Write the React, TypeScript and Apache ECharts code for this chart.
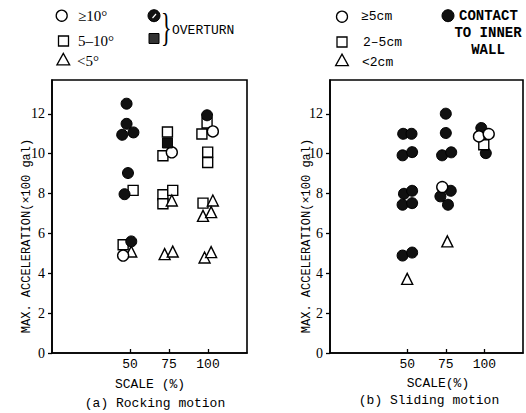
import React, { useEffect, useRef } from 'react';
import * as echarts from 'echarts';

const xTicks = [50, 75, 100];
const yTicks = [0, 2, 4, 6, 8, 10, 12];

// (a) Rocking motion
const rockOpenCircle = [[45.6, 4.89], [76.8, 10.07], [103.1, 11.12]];
const rockOpenSquare = [
  [52, 8.16], [45.6, 5.43], [74, 11.09], [71.1, 9.9], [71.1, 7.94], [71.1, 7.49],
  [77.4, 8.16], [99.4, 11.54], [96.1, 10.99], [99.8, 10.08], [99.8, 9.56], [96.8, 7.52],
];
const rockOpenTriangle = [
  [50.8, 5.09], [76.8, 7.65], [72.2, 4.96], [77.4, 5.09], [103.1, 7.65],
  [96.8, 6.88], [102, 7.07], [97.8, 4.79], [102, 5.06],
];
const rockOverturnCircle = [
  [47.8, 12.51], [47.8, 11.5], [45, 10.95], [52.2, 11.07], [48.7, 9.03],
  [46.5, 7.97], [50.8, 5.6], [99.4, 11.93],
];
const rockOverturnSquare = [[74, 10.54]];

// (b) Sliding motion
const slideOpenCircle = [[72.7, 8.33], [96.5, 10.87], [102.8, 10.99]];
const slideOpenSquare = [[99.6, 10.45]];
const slideOpenTriangle = [[50, 3.72], [76, 5.6]];
const slideContact = [
  [47.4, 11.0], [52.8, 11.0], [47, 9.92], [53.2, 10.08], [47.9, 7.99], [53.2, 8.14],
  [47, 7.44], [53.2, 7.52], [47, 4.89], [53.2, 5.04], [75, 12.01], [75, 11.04],
  [72.6, 9.92], [78.5, 10.07], [71.5, 7.86], [78.2, 8.14], [76.4, 7.44], [98, 11.29],
  [100.9, 10.03],
];

const MONO = '"Liberation Mono", "DejaVu Sans Mono", monospace';
const SERIF = '"Liberation Serif", "DejaVu Serif", serif';
const INK = '#000';

const openStyle = { color: '#fff', borderColor: INK, borderWidth: 1.4, opacity: 1 };
const fillStyle = { color: '#111', borderColor: INK, borderWidth: 1, opacity: 1 };

function scatter(data: number[][], symbol: string, size: number, filled: boolean, idx: number, z: number) {
  return {
    type: 'scatter',
    xAxisIndex: idx,
    yAxisIndex: idx,
    symbol,
    symbolSize: size,
    data,
    z,
    itemStyle: filled ? fillStyle : openStyle,
  };
}

function makeX(idx: number) {
  return {
    type: 'value',
    gridIndex: idx,
    min: 0,
    max: 125,
    axisLine: { show: true, lineStyle: { color: INK, width: 1.6 } },
    axisTick: { show: true, inside: true, length: 4, customValues: xTicks, lineStyle: { color: INK, width: 1.3 } },
    axisLabel: { customValues: xTicks, color: INK, fontFamily: MONO, fontSize: 13, margin: 5 },
    splitLine: { show: false },
  };
}

function makeY(idx: number) {
  return {
    type: 'value',
    gridIndex: idx,
    min: 0,
    max: 13.7,
    axisLine: { show: true, lineStyle: { color: INK, width: 1.6 } },
    axisTick: { show: true, inside: false, length: 4, customValues: yTicks, lineStyle: { color: INK, width: 1.3 } },
    axisLabel: { customValues: yTicks, color: INK, fontFamily: SERIF, fontSize: 14, margin: 7 },
    splitLine: { show: false },
  };
}

function txt(x: number, y: number, text: string, opts: any = {}) {
  return {
    type: 'text',
    x,
    y,
    rotation: opts.rotation || 0,
    scaleX: opts.scaleX || 1,
    style: {
      text,
      fill: INK,
      fontFamily: opts.font || MONO,
      fontSize: opts.size || 13,
      fontWeight: opts.weight || 'normal',
      align: opts.align || 'left',
      verticalAlign: 'middle',
    },
  };
}

function triPts(cx: number, cy: number, s: number) {
  return [[cx, cy - s * 0.6], [cx + s * 0.58, cy + s * 0.45], [cx - s * 0.58, cy + s * 0.45]];
}

const openShape = { fill: '#fff', stroke: INK, lineWidth: 1.3 };
const fillShape = { fill: '#111', stroke: INK, lineWidth: 1 };

export default function App() {
  const ref = useRef<HTMLDivElement>(null);
  useEffect(() => {
    document.body.style.margin = '0';
    const chart = echarts.init(ref.current!, null, { renderer: 'svg' });
    chart.setOption({
      animation: false,
      backgroundColor: '#fff',
      grid: [
        { left: 52, top: 80, width: 195, height: 273, show: true, borderColor: INK, borderWidth: 1.6, backgroundColor: 'transparent' },
        { left: 330, top: 80, width: 193, height: 273, show: true, borderColor: INK, borderWidth: 1.6, backgroundColor: 'transparent' },
      ],
      xAxis: [makeX(0), makeX(1)],
      yAxis: [makeY(0), makeY(1)],
      series: [
        scatter(rockOpenSquare, 'rect', 10, false, 0, 2),
        scatter(rockOpenTriangle, 'triangle', 11, false, 0, 2),
        scatter(rockOpenCircle, 'circle', 11, false, 0, 2),
        scatter(rockOverturnSquare, 'rect', 10, true, 0, 3),
        scatter(rockOverturnCircle, 'circle', 11, true, 0, 3),
        scatter(slideContact, 'circle', 11, true, 1, 2),
        scatter(slideOpenSquare, 'rect', 10, false, 1, 3),
        scatter(slideOpenTriangle, 'triangle', 11, false, 1, 3),
        scatter(slideOpenCircle, 'circle', 11, false, 1, 3),
      ],
      graphic: [
        // left legend
        { type: 'circle', shape: { cx: 61.7, cy: 15.7, r: 5.5 }, style: openShape },
        txt(78, 16, '≥10°', { font: SERIF, size: 15 }),
        { type: 'rect', shape: { x: 58.5, y: 36, width: 10, height: 10 }, style: openShape },
        txt(78, 41, '5–10°', { font: SERIF, size: 15 }),
        { type: 'polygon', shape: { points: triPts(63.3, 60, 11) }, style: openShape },
        txt(77, 61, '<5°', { font: SERIF, size: 15 }),
        { type: 'circle', shape: { cx: 154, cy: 15.7, r: 6 }, style: fillShape },
        { type: 'line', shape: { x1: 152.5, y1: 18, x2: 156, y2: 14 }, style: { stroke: '#fff', lineWidth: 1.2 } },
        { type: 'rect', shape: { x: 149, y: 33.5, width: 10, height: 10 }, style: { fill: '#333', stroke: INK, lineWidth: 1 } },
        txt(161, 27, '}', { font: SERIF, size: 40, scaleX: 0.55 }),
        txt(172, 30, 'OVERTURN', { size: 13 }),
        // right legend
        { type: 'circle', shape: { cx: 342, cy: 16.7, r: 5.5 }, style: openShape },
        txt(361, 16, '≥5cm', { size: 13 }),
        { type: 'rect', shape: { x: 337, y: 37, width: 10, height: 10 }, style: openShape },
        txt(363, 42, '2–5cm', { size: 13 }),
        { type: 'polygon', shape: { points: triPts(342, 60.7, 11) }, style: openShape },
        txt(362, 62, '<2cm', { size: 13 }),
        { type: 'circle', shape: { cx: 448, cy: 15.7, r: 6 }, style: fillShape },
        txt(459, 16, 'CONTACT', { size: 14, weight: 'bold' }),
        txt(488, 33, 'TO INNER', { size: 14, weight: 'bold', align: 'center' }),
        txt(488, 50, 'WALL', { size: 14, weight: 'bold', align: 'center' }),
        // y-axis names
        txt(27, 236, 'MAX. ACCELERATION(×100 gal)', { size: 12, rotation: Math.PI / 2, align: 'center' }),
        txt(307, 236, 'MAX. ACCELERATION(×100 gal)', { size: 12, rotation: Math.PI / 2, align: 'center' }),
        // x-axis names and captions
        txt(150, 384, 'SCALE (%)', { size: 13, align: 'center' }),
        txt(155, 403, '(a) Rocking motion', { size: 13, align: 'center' }),
        txt(438, 383, 'SCALE(%)', { size: 13, align: 'center' }),
        txt(429, 400, '(b) Sliding motion', { size: 13, align: 'center' }),
      ],
    });
    return () => chart.dispose();
  }, []);
  return <div ref={ref} style={{ width: 526, height: 413 }} />;
}
